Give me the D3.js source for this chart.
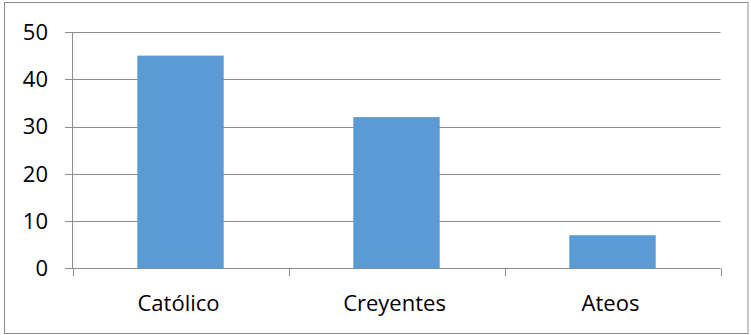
<!DOCTYPE html>
<html>
<head>
<meta charset="utf-8">
<script src="https://cdn.jsdelivr.net/npm/d3@7"></script>
<style>
  body { margin: 0; background: #fff; }
  text { font-family: "Open Sans", sans-serif; fill: #000; }
</style>
</head>
<body>
<div id="chart"></div>
<script>
// data
var categories = ["Católico", "Creyentes", "Ateos"];
var values = [45, 32, 7];
var yTicks = [0, 10, 20, 30, 40, 50];

function renderChart() {
    var width = 751,
        height = 335;
    var margin = { top: 32, right: 30, bottom: 67, left: 72.5 };

    var svg = d3.select("#chart")
        .append("svg")
        .attr("width", width)
        .attr("height", height);

    // outer border of the chart area
    svg.append("rect")
        .attr("x", 4.5)
        .attr("y", 2.5)
        .attr("width", 743.5)
        .attr("height", 331)
        .attr("fill", "none")
        .attr("stroke", "#8c8c8c")
        .attr("stroke-width", 1);

    var x = d3.scaleBand()
        .domain(categories)
        .range([margin.left, 720.5])
        .paddingInner(0.6)
        .paddingOuter(0.3);

    // band edges for the tick marks under the axis
    var step = x.step();
    var x0 = margin.left;

    var y = d3.scaleLinear()
        .domain([0, 50])
        .range([268.3, margin.top]);

    // gridlines
    svg.append("g")
        .selectAll("line")
        .data(yTicks)
        .join("line")
        .attr("x1", 65)
        .attr("x2", 720.5)
        .attr("y1", d => Math.round(y(d)) + 0.5)
        .attr("y2", d => Math.round(y(d)) + 0.5)
        .attr("stroke", "#8c8c8c")
        .attr("stroke-width", 1);

    // y axis line
    svg.append("line")
        .attr("x1", 72.5).attr("x2", 72.5)
        .attr("y1", Math.round(y(50)) + 0.5)
        .attr("y2", Math.round(y(0)) + 0.5)
        .attr("stroke", "#8c8c8c");

    // y labels
    svg.append("g")
        .selectAll("text")
        .data(yTicks)
        .join("text")
        .attr("x", 48)
        .attr("y", d => y(d))
        .attr("dy", "0.36em")
        .attr("text-anchor", "end")
        .style("font-size", "22px")
        .text(d => d);

    // bars
    svg.append("g")
        .selectAll("rect")
        .data(values)
        .join("rect")
        .attr("x", (d, i) => x(categories[i]))
        .attr("width", x.bandwidth())
        .attr("y", d => y(d))
        .attr("height", d => y(0) - y(d))
        .attr("fill", "#5b9bd5");

    // x tick marks between categories
    svg.append("g")
        .selectAll("line")
        .data(d3.range(categories.length + 1))
        .join("line")
        .attr("x1", i => Math.round(x0 + i * step) + 0.5)
        .attr("x2", i => Math.round(x0 + i * step) + 0.5)
        .attr("y1", Math.round(y(0)) + 0.5)
        .attr("y2", Math.round(y(0)) + 8)
        .attr("stroke", "#8c8c8c");

    // category labels
    svg.append("g")
        .selectAll("text")
        .data(categories)
        .join("text")
        .attr("x", d => x(d) + x.bandwidth() / 2 - 2)
        .attr("y", 311)
        .attr("text-anchor", "middle")
        .style("font-size", "22px")
        .text(d => d);
}

document.addEventListener("DOMContentLoaded", function () {
    renderChart();
});
</script>
</body>
</html>
